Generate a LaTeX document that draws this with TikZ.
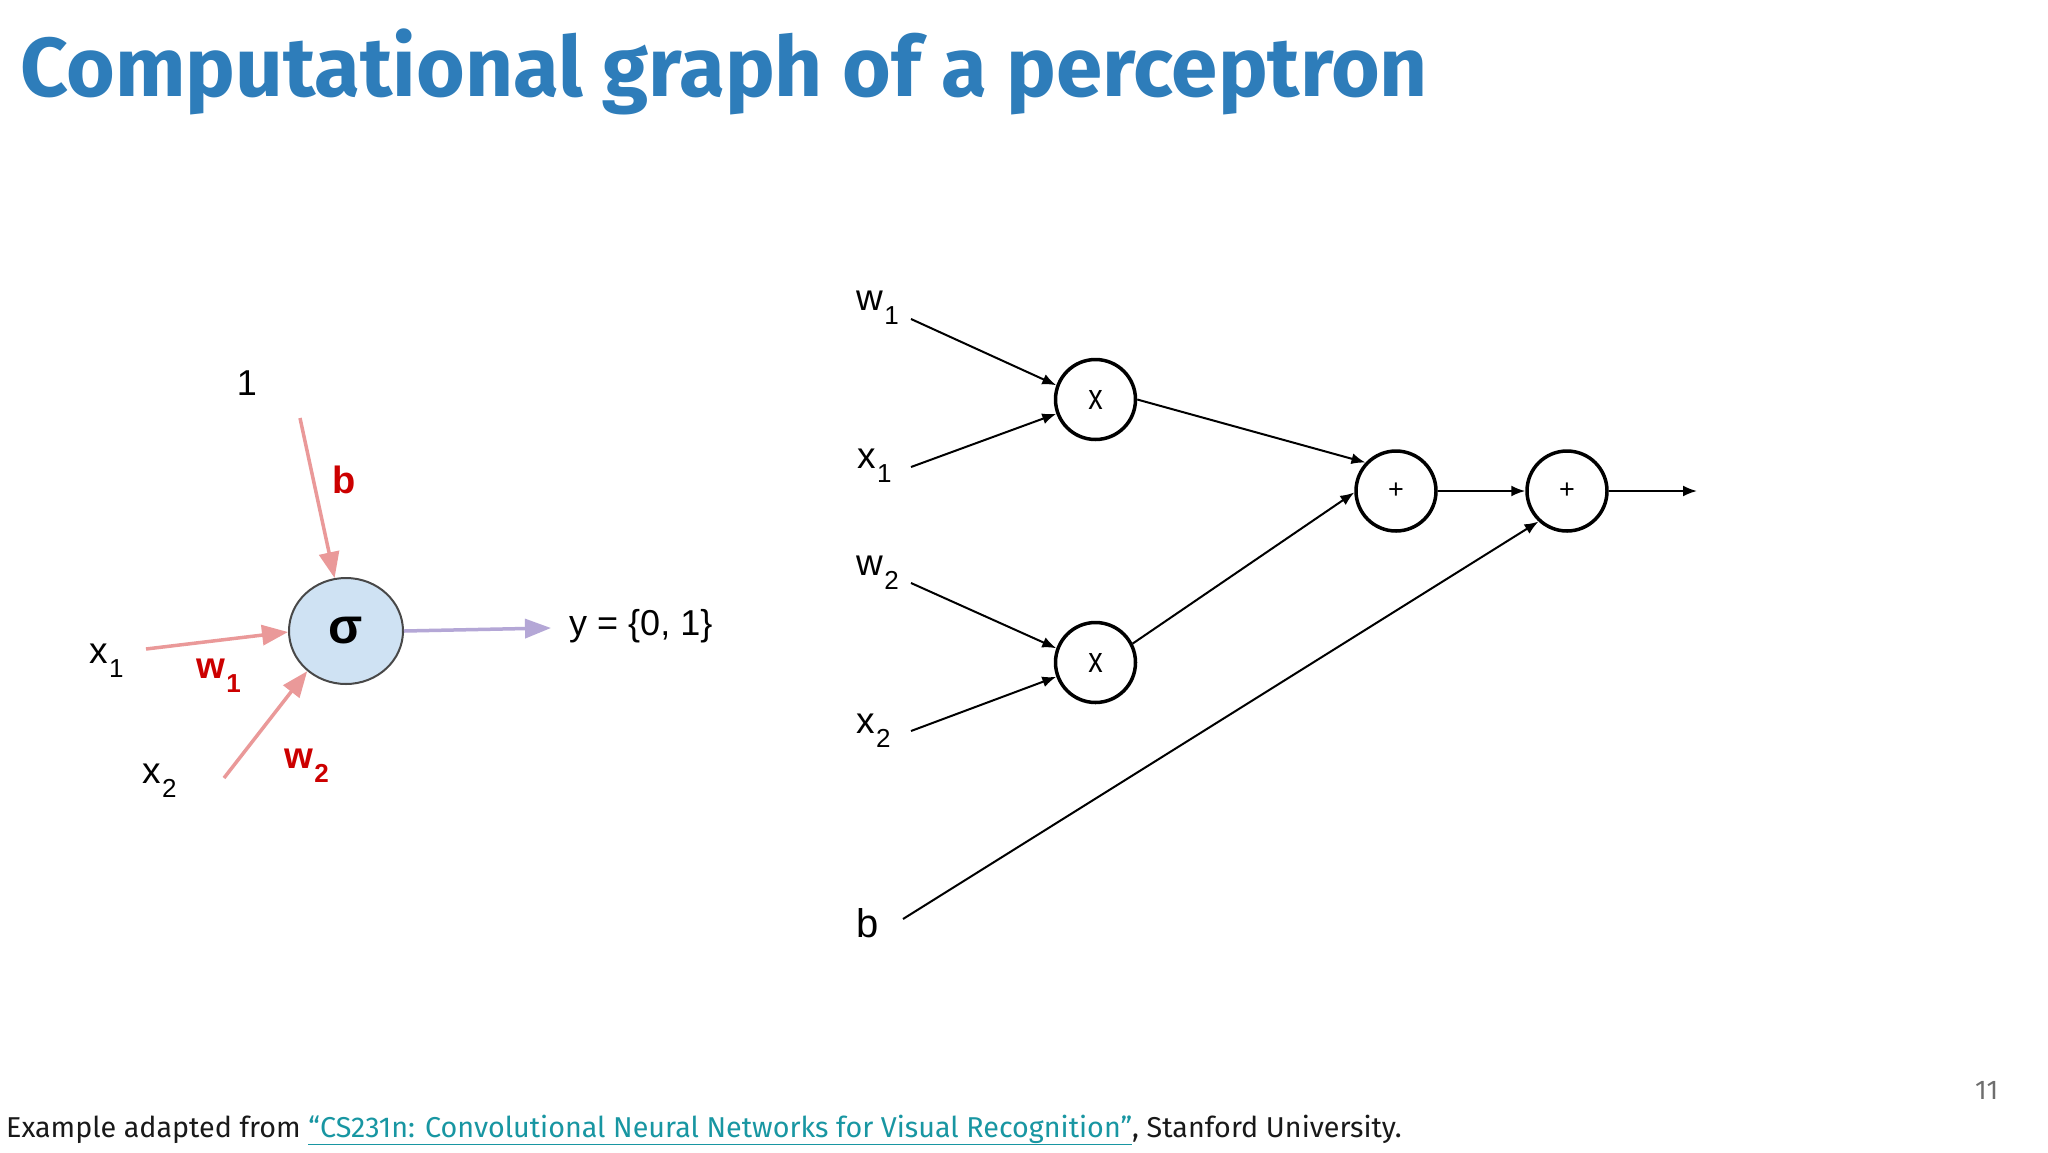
\documentclass[tikz,border=0pt]{standalone}
\usepackage{fontspec}
\setmainfont{Liberation Sans}
\newfontfamily\titlefont{Fira Sans}
\usetikzlibrary{arrows.meta,shapes.geometric}
\definecolor{titleblue}{RGB}{46,125,186}
\definecolor{pinkline}{RGB}{234,153,153}
\definecolor{purpline}{RGB}{180,167,214}
\definecolor{darkred}{RGB}{204,0,0}
\definecolor{sigfill}{RGB}{207,226,243}
\definecolor{sigedge}{RGB}{72,72,72}
\definecolor{linkteal}{RGB}{24,150,162}
\definecolor{pagegray}{RGB}{110,110,110}
\newcommand\lbl[2]{#1\kern1.5pt\raisebox{-0.38em}{\fontsize{26}{26}\selectfont #2}}
\begin{document}
\begin{tikzpicture}[x=1pt,y=-1pt,
  pinkarrow/.style={draw=pinkline, line width=3.5pt, -{Triangle[length=26pt,width=20pt]}},
  purparrow/.style={draw=purpline, line width=3.5pt, -{Triangle[length=26pt,width=19pt]}},
  blkarrow/.style={draw=black, line width=2pt, -{Latex[length=14pt,width=11pt]}},
  lab/.style={anchor=base west, inner sep=0pt, font=\fontsize{37}{37}\selectfont},
  redlab/.style={anchor=base west, inner sep=0pt, text=darkred, font=\bfseries\fontsize{37}{37}\selectfont},
  opnode/.style={circle, draw=black, line width=3.5pt, minimum size=80pt, inner sep=0pt, fill=white}
]
\useasboundingbox[fill=white] (0,0) rectangle (2048,1152);

% title
\node[anchor=base west, inner sep=0pt, text=titleblue, font=\titlefont\bfseries\fontsize{83.5}{83.5}\selectfont] (title) at (20,96) {Computational graph of a perceptron};

% ---------- left: perceptron ----------
\node[ellipse, draw=sigedge, line width=2pt, fill=sigfill, minimum width=114pt, minimum height=106pt, inner sep=0pt,
      font=\bfseries\fontsize{50}{50}\selectfont] (sig) at (346,631) {σ};
\node[anchor=base, inner sep=0pt, font=\fontsize{36}{36}\selectfont] (one) at (247,395) {1};
\coordinate (bstart) at (300,418);
\draw[pinkarrow] (bstart) -- (sig);
\node[anchor=base, inner sep=0pt, text=darkred, font=\bfseries\fontsize{38}{38}\selectfont] (blab) at (344,493) {b};

\node[lab] (xa) at (89,663) {\lbl{x}{1}};
\coordinate (xastart) at (146,649);
\draw[pinkarrow] (xastart) -- (sig.181);
\node[redlab] (wa) at (196,678) {\lbl{w}{1}};

\node[lab] (xb) at (142,783) {\lbl{x}{2}};
\coordinate (xbstart) at (224,778);
\draw[pinkarrow] (xbstart) -- (sig.226);
\node[redlab] (wb) at (284,768) {\lbl{w}{2}};

\coordinate (yend) at (551,628);
\draw[purparrow] (sig.east) -- (yend);
\node[anchor=base west, inner sep=0pt, font=\fontsize{36}{36}\selectfont] (ylab) at (569,635) {y = \{0, 1\}};

% ---------- right: computational graph ----------
\node[opnode, font=\fontsize{36}{36}\selectfont] (m1) at (1095.5,399.5) {\scalebox{0.8}[1]{x}};
\node[opnode, font=\fontsize{36}{36}\selectfont] (m2) at (1095.5,662.5) {\scalebox{0.8}[1]{x}};
\node[opnode, font=\fontsize{27}{27}\selectfont] (p1) at (1396,491) {+};
\node[opnode, font=\fontsize{27}{27}\selectfont] (p2) at (1567,491) {+};

\node[lab] (rw1) at (856,310) {\lbl{w}{1}};
\node[lab] (rx1) at (857,468) {\lbl{x}{1}};
\node[lab] (rw2) at (856,575) {\lbl{w}{2}};
\node[lab] (rx2) at (856,733) {\lbl{x}{2}};
\node[lab, font=\fontsize{40}{40}\selectfont] (rb) at (856,937) {b};

\coordinate (w1s) at (911,319);
\coordinate (x1s) at (911,467);
\coordinate (w2s) at (911,583);
\coordinate (x2s) at (911,731);
\coordinate (bs) at (903,919);
\coordinate (outend) at (1697,491);

\draw[blkarrow] (w1s) -- (m1.160);
\draw[blkarrow] (x1s) -- (m1.200);
\draw[blkarrow] (w2s) -- (m2.160);
\draw[blkarrow] (x2s) -- (m2.200);
\draw[blkarrow] (m1.east) -- (p1.137);
\draw[blkarrow] (m2.27) -- (p1.182);
\draw[blkarrow] (p1.east) -- (p2.west);
\draw[blkarrow] (bs) -- (p2.227);
\draw[blkarrow] (p2.east) -- (outend);

% footer
\node[anchor=base west, inner sep=0pt, text=black!90, font=\titlefont\fontsize{28.7}{28.7}\selectfont] (src) at (6,1137)
  {Example adapted from \textcolor{linkteal}{\underline{“CS231n: Convolutional Neural Networks for Visual Recognition”}}, Stanford University.};
\node[anchor=base west, inner sep=0pt, text=pagegray, font=\titlefont\fontsize{27}{27}\selectfont] (pg) at (1975,1099) {11};
\end{tikzpicture}
\end{document}
